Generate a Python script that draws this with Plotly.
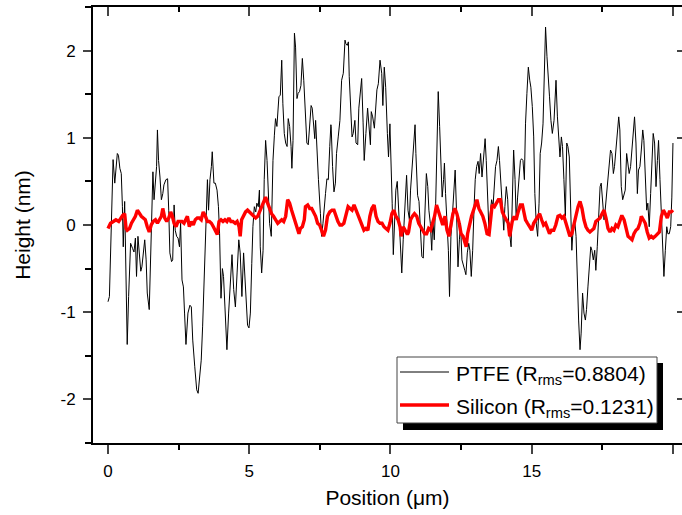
import plotly.graph_objects as go

# PTFE profile (position in um, height in nm)
ptfe_x = [0.00,0.05,0.18,0.24,0.33,0.37,0.42,0.47,0.51,0.54,0.59,0.64,0.68,0.73,0.80,0.87,0.92,0.97,1.01,1.06,1.11,1.16,1.20,1.25,1.30,1.35,1.39,1.46,1.51,1.56,1.59,1.63,1.68,1.72,1.75,1.79,1.84,1.89,1.94,1.98,2.05,2.11,2.15,2.19,2.25,2.29,2.34,2.38,2.43,2.48,2.53,2.57,2.62,2.67,2.71,2.76,2.83,2.90,2.95,3.00,3.07,3.14,3.19,3.26,3.30,3.35,3.40,3.46,3.52,3.56,3.61,3.66,3.69,3.75,3.80,
          3.86,3.91,3.95,4.00,4.05,4.09,4.14,4.21,4.27,4.33,4.39,4.45,4.51,4.57,4.63,4.68,4.74,4.80,4.85,4.90,4.94,4.99,5.04,5.09,5.13,5.18,5.23,5.27,5.32,5.36,5.39,5.44,5.49,5.53,5.58,5.63,5.68,5.72,5.78,5.84,5.89,5.93,5.98,6.02,6.05,6.10,6.15,6.19,6.24,6.29,6.34,6.38,6.43,6.48,6.51,6.55,6.60,6.64,6.69,6.73,6.78,6.83,6.88,6.93,6.99,7.04,7.09,7.14,7.19,7.23,7.28,7.32,7.35,7.40,7.45,7.52,7.56,7.61,7.66,7.70,7.75,7.80,7.85,7.89,
          7.90,7.95,8.00,8.05,8.09,8.15,8.21,8.27,8.33,8.39,8.42,8.47,8.51,8.54,8.59,8.64,8.68,8.74,8.78,8.84,8.88,8.93,8.98,9.03,9.07,9.13,9.19,9.25,9.29,9.32,9.37,9.43,9.47,9.52,9.57,9.63,9.69,9.73,9.78,9.83,9.89,9.93,9.98,10.03,10.06,10.10,10.15,10.19,10.24,10.29,10.34,10.40,10.45,10.51,10.57,10.62,10.67,10.71,10.76,10.81,10.87,10.90,10.96,11.01,11.06,11.11,11.16,11.21,11.27,11.32,11.36,11.41,11.46,11.50,11.55,11.60,11.63,11.69,11.74,11.79,11.83,11.88,11.91,
          11.95,12.00,12.05,12.09,12.14,12.19,12.25,12.29,12.34,12.39,12.44,12.48,12.53,12.58,12.63,12.67,12.72,12.77,12.81,12.86,12.91,12.96,13.00,13.05,13.10,13.14,13.19,13.24,13.29,13.35,13.39,13.44,13.49,13.53,13.58,13.63,13.68,13.72,13.77,13.82,13.86,13.91,13.96,14.01,14.05,14.10,14.15,14.19,14.27,14.31,14.36,14.41,14.45,14.50,14.55,14.60,14.64,14.69,14.74,14.78,14.83,14.88,14.93,14.97,15.02,15.07,15.11,15.16,15.21,15.26,15.30,15.35,15.40,15.45,15.49,15.54,15.59,15.63,15.68,15.73,15.79,15.83,
          15.86,15.91,15.95,16.00,16.05,16.09,16.14,16.19,16.24,16.28,16.33,16.38,16.42,16.47,16.52,16.57,16.61,16.66,16.71,16.75,16.80,16.85,16.90,16.94,16.99,17.04,17.09,17.13,17.18,17.23,17.27,17.32,17.37,17.42,17.46,17.51,17.56,17.60,17.65,17.70,17.75,17.79,17.84,17.89,17.93,17.98,18.03,18.08,18.12,18.17,18.22,18.27,18.31,18.36,18.41,18.45,18.50,18.55,18.60,18.64,18.69,18.74,18.78,18.83,18.88,18.93,18.97,19.02,19.07,19.11,19.16,19.21,19.26,19.30,19.35,19.40,19.45,19.49,19.54,19.59,19.63,19.68,19.73,19.78,19.82,19.87,19.92,19.96,20.00]
ptfe_y = [-0.88,-0.82,0.75,0.48,0.82,0.80,0.65,0.59,0.21,-0.25,0.27,-0.48,-1.37,-0.82,-0.21,-0.27,-0.31,-0.15,-0.59,-0.13,-0.40,-0.53,-0.48,-0.31,-0.17,-0.40,-0.78,-0.97,-0.40,0.21,0.61,0.29,0.55,0.67,1.09,0.74,0.55,0.29,0.36,0.46,0.52,0.53,0.17,-0.32,-0.42,-0.40,0.23,-0.06,-0.13,-0.15,-0.25,0.02,-0.63,-0.71,-1.01,-1.37,-1.01,-0.92,-0.94,-1.32,-1.62,-1.89,-1.93,-1.66,-1.55,-1.16,-0.71,-0.02,0.52,0.17,0.52,0.67,0.84,0.48,0.48,
          0.40,0.21,-0.10,-0.84,-0.50,-0.59,-0.94,-1.43,-1.01,-0.59,-0.34,-0.74,-0.94,-0.55,-0.17,-0.32,-0.82,-0.32,-0.67,-0.97,-1.15,-1.18,-1.01,-0.44,-0.02,0.21,0.15,0.25,0.21,0.40,-0.25,-0.55,-0.29,0.52,0.97,0.74,0.29,0.02,-0.13,0.74,1.03,1.22,1.13,1.36,1.47,1.49,1.89,1.39,1.05,0.94,0.90,1.22,1.13,0.90,0.65,0.97,2.20,2.04,1.45,1.51,1.53,1.60,1.91,1.66,1.32,0.94,0.92,1.20,1.37,1.34,1.07,0.99,1.20,0.82,0.52,0.13,-0.13,0.02,0.17,0.36,0.53,0.52,0.90,1.15,
          1.13,0.67,0.38,0.48,0.82,1.01,1.20,1.66,1.74,2.12,2.08,2.06,2.10,1.70,1.37,1.01,1.05,1.20,0.94,0.92,1.34,1.55,1.68,1.18,0.74,1.05,1.34,1.09,0.92,1.30,1.24,1.11,1.36,1.55,1.62,1.89,1.74,1.37,1.81,1.58,1.05,0.78,1.16,0.71,0.25,-0.34,0.06,0.40,0.50,0.13,-0.17,-0.55,-0.17,0.21,0.57,0.17,0.06,0.40,0.63,0.76,1.15,0.82,0.34,0.27,-0.13,-0.36,-0.38,-0.02,0.59,0.44,0.17,0.02,-0.29,0.06,-0.17,0.25,0.82,1.53,1.13,0.74,0.32,0.52,0.71,
          0.36,0.02,-0.29,-0.82,-0.13,0.10,0.48,0.63,0.13,-0.48,-0.17,0.02,-0.40,-0.48,-0.52,-0.57,-0.32,-0.21,-0.29,-0.59,-0.29,0.21,0.52,0.67,0.73,0.59,0.82,0.55,0.74,0.99,0.74,0.21,-0.10,0.13,0.29,0.21,0.55,0.67,0.74,0.90,0.74,0.44,0.21,-0.06,0.21,0.44,0.29,-0.02,-0.25,0.32,0.86,0.52,0.06,0.32,0.55,0.74,0.76,0.74,0.52,1.16,1.51,1.81,1.66,1.58,1.36,1.01,0.36,0.02,-0.13,0.25,0.82,0.94,1.16,1.89,2.27,1.93,1.58,1.47,1.20,1.05,1.20,1.47,
          1.66,1.24,1.05,0.78,1.01,0.90,0.52,0.10,0.94,0.90,0.78,0.21,-0.29,-0.02,0.06,-0.13,-0.63,-1.09,-1.43,-1.24,-0.78,-1.01,-1.09,-0.97,-0.71,-0.48,-0.25,-0.29,-0.40,-0.29,-0.52,-0.25,0.13,0.44,0.48,0.25,0.06,0.17,0.36,0.48,0.67,0.86,0.82,0.59,0.67,0.90,1.09,1.24,1.09,0.44,0.29,0.36,0.40,0.82,0.67,0.59,0.67,0.90,1.05,1.24,0.94,0.36,0.63,0.67,0.86,1.09,0.97,0.52,0.17,0.25,-0.02,0.36,0.67,1.05,0.94,0.44,0.74,0.97,0.52,0.06,-0.25,-0.59,-0.29,-0.02,-0.10,-0.10,-0.02,0.32,0.94]

# Silicon profile
si_x = [0.00,0.09,0.19,0.28,0.38,0.45,0.52,0.59,0.64,0.68,0.76,0.83,0.90,0.97,1.04,1.11,1.18,1.25,1.32,1.39,1.46,1.53,1.60,1.68,1.75,1.82,1.89,1.94,2.01,2.08,2.15,2.22,2.27,2.34,2.41,2.48,2.55,2.62,2.69,2.76,2.81,2.88,2.95,3.02,3.09,3.16,3.23,3.30,3.37,3.45,3.52,3.59,3.66,3.73,3.80,3.87,
        3.93,4.00,4.07,4.14,4.21,4.28,4.35,4.42,4.50,4.57,4.64,4.68,4.73,4.80,4.87,4.94,5.01,5.09,5.16,5.23,5.30,5.37,5.44,5.51,5.58,5.65,5.72,5.79,5.86,5.93,6.01,6.08,6.15,6.22,6.29,6.36,6.43,6.50,6.57,6.64,6.71,6.76,6.81,6.88,6.95,6.99,7.07,7.14,7.21,7.28,7.35,7.42,7.49,7.56,7.63,7.70,7.77,7.85,
        7.93,8.00,8.07,8.14,8.21,8.28,8.35,8.42,8.50,8.57,8.64,8.71,8.78,8.85,8.92,8.99,9.06,9.13,9.20,9.27,9.34,9.42,9.49,9.56,9.63,9.70,9.77,9.84,9.91,9.98,10.05,10.12,10.19,10.27,10.34,10.38,10.45,10.52,10.60,10.64,10.71,10.78,10.85,10.93,11.00,11.07,11.14,11.21,11.28,11.35,11.42,11.49,11.56,11.63,11.70,11.78,11.85,
        11.93,12.00,12.07,12.14,12.21,12.28,12.35,12.42,12.50,12.57,12.64,12.68,12.73,12.80,12.87,12.94,13.01,13.06,13.13,13.20,13.27,13.34,13.42,13.49,13.56,13.60,13.68,13.75,13.82,13.89,13.96,14.03,14.10,14.17,14.22,14.27,14.31,14.38,14.45,14.52,14.60,14.67,14.71,14.78,14.85,14.93,15.00,15.07,15.14,15.21,15.28,15.35,15.42,15.49,15.56,15.63,15.70,15.78,15.85,
        15.93,16.00,16.07,16.14,16.21,16.28,16.35,16.42,16.50,16.57,16.64,16.71,16.78,16.85,16.92,16.99,17.06,17.13,17.20,17.27,17.35,17.42,17.49,17.56,17.63,17.70,17.77,17.84,17.91,17.98,18.05,18.12,18.19,18.27,18.34,18.41,18.48,18.55,18.62,18.69,18.76,18.83,18.88,18.95,19.02,19.09,19.16,19.23,19.30,19.37,19.45,19.52,19.59,19.66,19.73,19.80,19.87,19.94,20.00]
si_y = [-0.04,0.02,0.04,0.06,0.04,0.08,0.11,0.13,-0.04,-0.06,-0.04,0.02,0.06,0.10,0.17,0.13,0.10,0.08,0.06,-0.02,-0.08,0.00,0.04,0.06,0.02,0.06,0.10,0.19,0.08,0.04,0.08,0.15,0.11,0.02,-0.02,0.04,0.04,0.04,0.02,0.06,0.10,-0.02,0.04,0.00,0.06,0.08,0.08,0.06,0.15,0.10,0.04,0.04,0.02,-0.02,-0.06,-0.11,
        0.04,0.06,0.04,0.06,0.04,0.08,0.04,0.04,0.02,0.04,-0.02,-0.13,0.06,0.10,0.15,0.17,0.15,0.13,0.10,0.08,0.10,0.15,0.21,0.27,0.32,0.25,0.19,0.13,0.10,0.06,0.02,0.04,0.06,0.04,0.10,0.29,0.25,0.17,0.10,0.04,-0.04,-0.10,-0.04,-0.02,0.06,0.21,0.23,0.19,0.19,0.15,0.10,0.02,0.00,-0.06,-0.13,-0.06,0.10,0.15,
        0.17,0.17,0.10,0.04,0.00,0.00,0.02,0.13,0.21,0.19,0.17,0.23,0.17,0.11,0.06,-0.02,-0.06,-0.04,-0.06,0.10,0.19,0.23,0.10,0.04,0.02,0.02,-0.02,-0.04,-0.06,0.02,0.13,0.17,0.10,0.06,-0.02,-0.13,-0.02,-0.06,-0.11,-0.08,0.06,0.10,0.13,0.10,0.02,-0.02,-0.06,-0.10,-0.10,-0.04,-0.06,0.02,0.10,0.23,0.15,0.08,0.00,
        0.10,-0.06,-0.13,-0.02,0.13,0.19,0.13,0.04,-0.10,-0.13,-0.21,-0.25,-0.10,0.02,0.10,0.17,0.23,0.29,0.19,0.15,0.10,0.02,-0.10,-0.11,0.06,0.23,0.21,0.25,0.29,0.29,0.15,0.10,0.06,0.02,-0.13,-0.02,0.04,0.10,0.06,0.15,0.23,0.23,0.15,0.06,0.02,-0.02,-0.06,0.02,0.06,0.10,0.13,0.06,0.00,0.02,-0.04,-0.10,-0.06,-0.06,0.00,
        0.10,0.11,0.08,0.10,0.02,-0.08,-0.13,-0.10,0.02,0.15,0.21,0.27,0.19,0.06,-0.02,-0.06,-0.08,-0.06,-0.04,0.04,0.06,0.08,0.13,0.17,0.08,-0.04,-0.08,-0.04,-0.06,0.00,-0.02,0.06,0.11,0.06,-0.04,-0.13,-0.15,-0.17,-0.10,-0.06,-0.04,0.02,0.10,0.06,0.02,-0.08,-0.15,-0.13,-0.15,-0.13,-0.10,-0.08,0.10,0.17,0.13,0.08,0.15,0.15,0.17]

series_names = ["PTFE (R<sub>rms</sub>=0.8804)", "Silicon (R<sub>rms</sub>=0.1231)"]
x_ticks = [0, 5, 10, 15, 20]
x_tick_labels = ["0", "5", "10", "15", "20"]
y_ticks = [-2, -1, 0, 1, 2]
y_tick_labels = ["-2", "-1", "0", "1", "2"]
x_range = [-0.531, 20.32]
y_range = [-2.5, 2.5]

FONT = "Arial, Liberation Sans, sans-serif"
COLORS = ["black", "#ff0000"]
WIDTHS = [1, 3.4]

fig = go.Figure()
fig.add_trace(go.Scatter(x=ptfe_x, y=ptfe_y, mode="lines",
                         line=dict(color=COLORS[0], width=WIDTHS[0]), name=series_names[0]))
fig.add_trace(go.Scatter(x=si_x, y=si_y, mode="lines",
                         line=dict(color=COLORS[1], width=WIDTHS[1]), name=series_names[1]))
# carrier for mirror axes
fig.add_trace(go.Scatter(x=[], y=[], xaxis="x2", yaxis="y2", showlegend=False, hoverinfo="skip"))

fig.update_layout(
    width=682, height=515,
    margin=dict(l=93, r=0, t=7, b=72, autoexpand=False),
    paper_bgcolor="white", plot_bgcolor="white",
    font=dict(family=FONT, color="black", size=17),
    showlegend=False,
    xaxis=dict(range=x_range, tickvals=x_ticks, ticktext=x_tick_labels, ticks="outside", ticklen=9, tickwidth=1.5,
               showline=True, linewidth=2, linecolor="black", showgrid=False, zeroline=False,
               tickfont=dict(size=17), automargin=False, ticklabelstandoff=3,
               minor=dict(ticks="outside", ticklen=5, tickwidth=1.5, dtick=2.5, tick0=0, tickcolor="black"),
               title=dict(text="Position (μm)", font=dict(size=21), standoff=10)),
    yaxis=dict(range=y_range, tickvals=y_ticks, ticktext=y_tick_labels, ticks="outside", ticklen=8, tickwidth=1.5,
               showline=True, linewidth=2, linecolor="black", showgrid=False, zeroline=False,
               tickfont=dict(size=17), automargin=False, ticklabelstandoff=4,
               minor=dict(ticks="outside", ticklen=6, tickwidth=1.5, dtick=0.5, tick0=0, tickcolor="black"),
               title=dict(text="Height (nm)", font=dict(size=21), standoff=24)),
    xaxis2=dict(range=x_range, overlaying="x", side="top", anchor="y2", tickvals=x_ticks,
                ticks="inside", ticklen=9, tickwidth=1.5, showticklabels=False, automargin=False,
                showline=True, linewidth=2, linecolor="black", showgrid=False, zeroline=False,
                minor=dict(ticks="inside", ticklen=5, tickwidth=1.5, dtick=2.5, tick0=0, tickcolor="black")),
    yaxis2=dict(range=y_range, overlaying="y", side="right", anchor="x2", tickvals=y_ticks,
                ticks="inside", ticklen=5, tickwidth=1.5, showticklabels=False, automargin=False,
                showline=False, showgrid=False, zeroline=False),
)

# hand-drawn legend (Origin style, with drop shadow)
PW, PH, L, B = 589.0, 436.0, 93.0, 443.0
def px(v):
    return (v - L) / PW
def py(v):
    return (B - v) / PH

fig.add_shape(type="rect", xref="paper", yref="paper",
              x0=px(403), x1=px(663), y0=py(430), y1=py(363),
              fillcolor="black", line=dict(width=0), layer="above")
fig.add_shape(type="rect", xref="paper", yref="paper",
              x0=px(397), x1=px(657), y0=py(423), y1=py(357),
              fillcolor="white", line=dict(width=1, color="#444444"), layer="above")
for i, yy in enumerate([372, 405]):
    fig.add_shape(type="line", xref="paper", yref="paper",
                  x0=px(400), x1=px(449), y0=py(yy), y1=py(yy),
                  line=dict(color=COLORS[i], width=WIDTHS[i]), layer="above")
    fig.add_annotation(x=px(454), y=py(yy + 3), xref="paper", yref="paper",
                       text=series_names[i], showarrow=False, xanchor="left", yanchor="middle",
                       font=dict(size=21, family=FONT, color="black"))

fig.write_html("out.html", config={"displayModeBar": False},
               post_script="document.body.style.margin='0px';")
